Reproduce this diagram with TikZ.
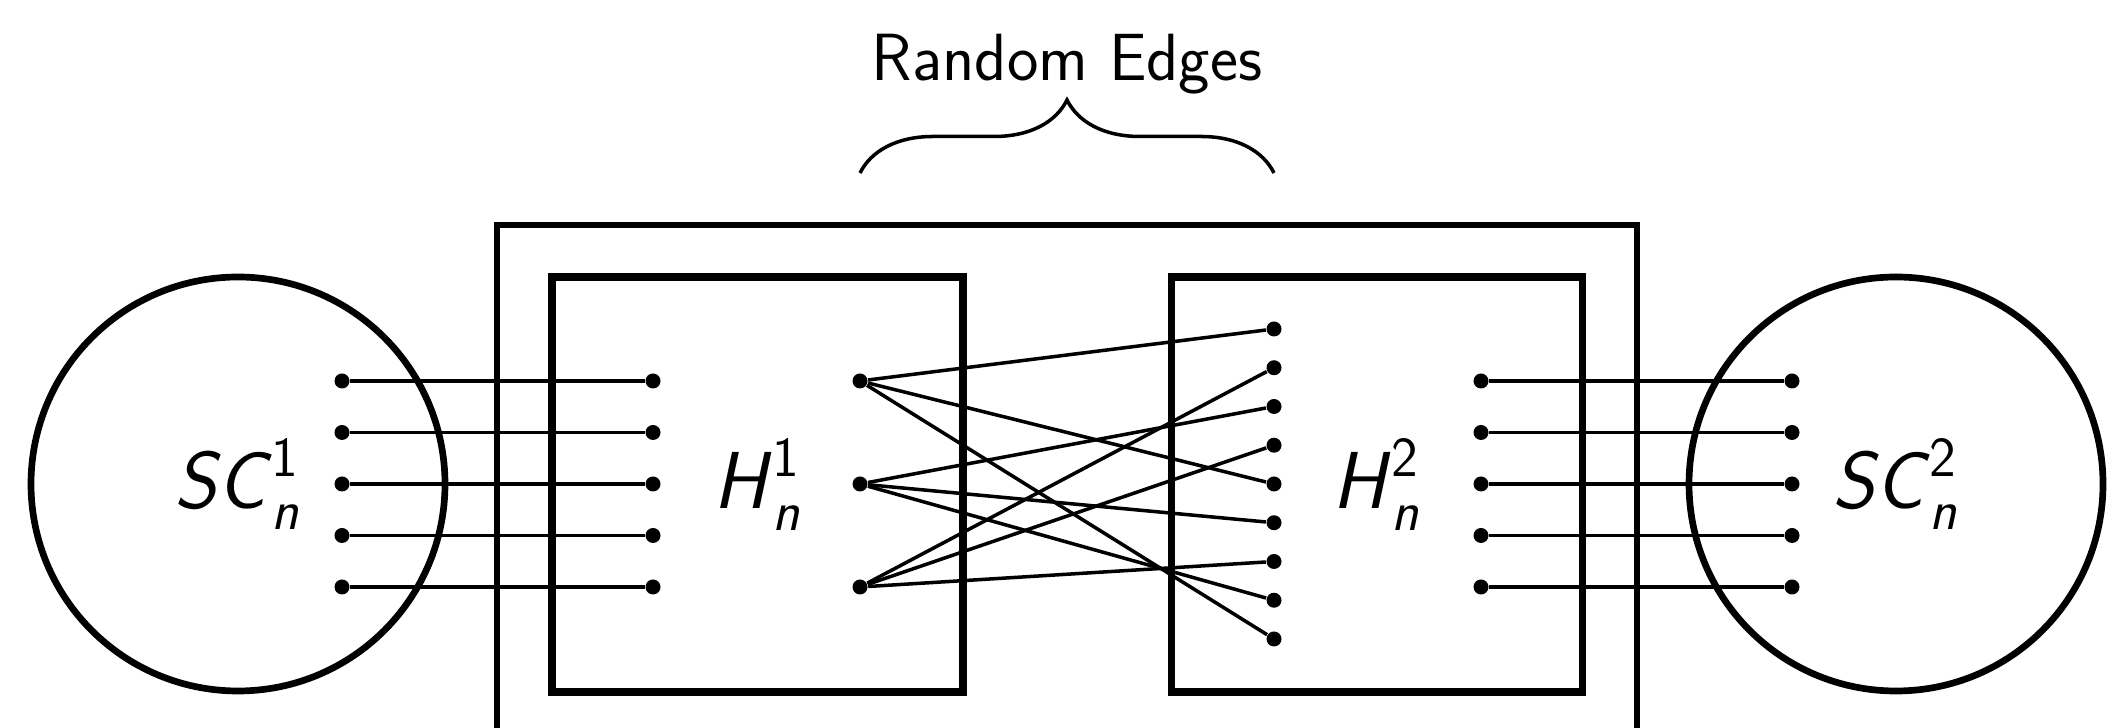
\documentclass[tikz,border=0pt]{standalone}
\usepackage{amsmath}
\usetikzlibrary{decorations.pathreplacing}
\newcommand{\sfmath}[3]{\textsf{\itshape #1}$^{\textsf{#3}}_{\textsf{\itshape #2}}$}
\begin{document}
\begin{tikzpicture}[x=1cm,y=1cm,
  dot/.style={circle,fill=black,inner sep=0pt,minimum size=0.15cm},
  wire/.style={line width=1pt},
  thickline/.style={line width=2pt},
  bigcircle/.style={draw,circle,line width=1.9pt,minimum size=4.14cm,inner sep=0pt,font=\fontsize{23}{27}\selectfont},
  hbox/.style={draw,rectangle,thickline,minimum width=4.11cm,minimum height=4.15cm,inner sep=0pt,font=\fontsize{23}{27}\selectfont},
  bracetext/.style={font=\sffamily\fontsize{19}{22}\selectfont,anchor=base,inner sep=0pt}]
\useasboundingbox (0,0) rectangle (21.22,7.28);

% outer frame
\draw[line width=1.8pt] (4.97,-0.2) -- (4.97,5.03) -- (16.37,5.03) -- (16.37,-0.2);

% main shapes
\node[bigcircle] (SC1) at (2.38,2.44) {\sfmath{SC}{n}{1}};
\node[bigcircle] (SC2) at (18.96,2.44) {\sfmath{SC}{n}{2}};
\node[hbox] (H1) at (7.575,2.435) {\sfmath{H}{n}{1}};
\node[hbox] (H2) at (13.765,2.435) {\sfmath{H}{n}{2}};

% bundles
\foreach \i/\y in {1/3.47,2/2.955,3/2.44,4/1.925,5/1.41}{
  \node[dot] (la\i) at (3.42,\y) {};
  \node[dot] (lb\i) at (6.53,\y) {};
  \draw[wire] (la\i) -- (lb\i);
  \node[dot] (ra\i) at (14.81,\y) {};
  \node[dot] (rb\i) at (17.92,\y) {};
  \draw[wire] (ra\i) -- (rb\i);
}

% random edge endpoints
\foreach \i/\y in {1/3.47,2/2.44,3/1.41}{
  \node[dot] (L\i) at (8.60,\y) {};
}
\foreach \i in {1,...,9}{
  \node[dot] (R\i) at (12.74,{3.99-(\i-1)*0.3875}) {};
}
\foreach \a/\b in {1/1,1/5,1/9,2/3,2/6,2/8,3/2,3/4,3/7}{
  \draw[wire] (L\a) -- (R\b);
}

% brace and label
\coordinate (bl) at (8.60,5.55);
\coordinate (br) at (12.74,5.55);
\draw[decorate,decoration={brace,amplitude=0.73cm},line width=1pt] (bl) -- (br);
\node[bracetext] (re) at (10.67,6.47) {Random Edges};
\end{tikzpicture}
\end{document}
